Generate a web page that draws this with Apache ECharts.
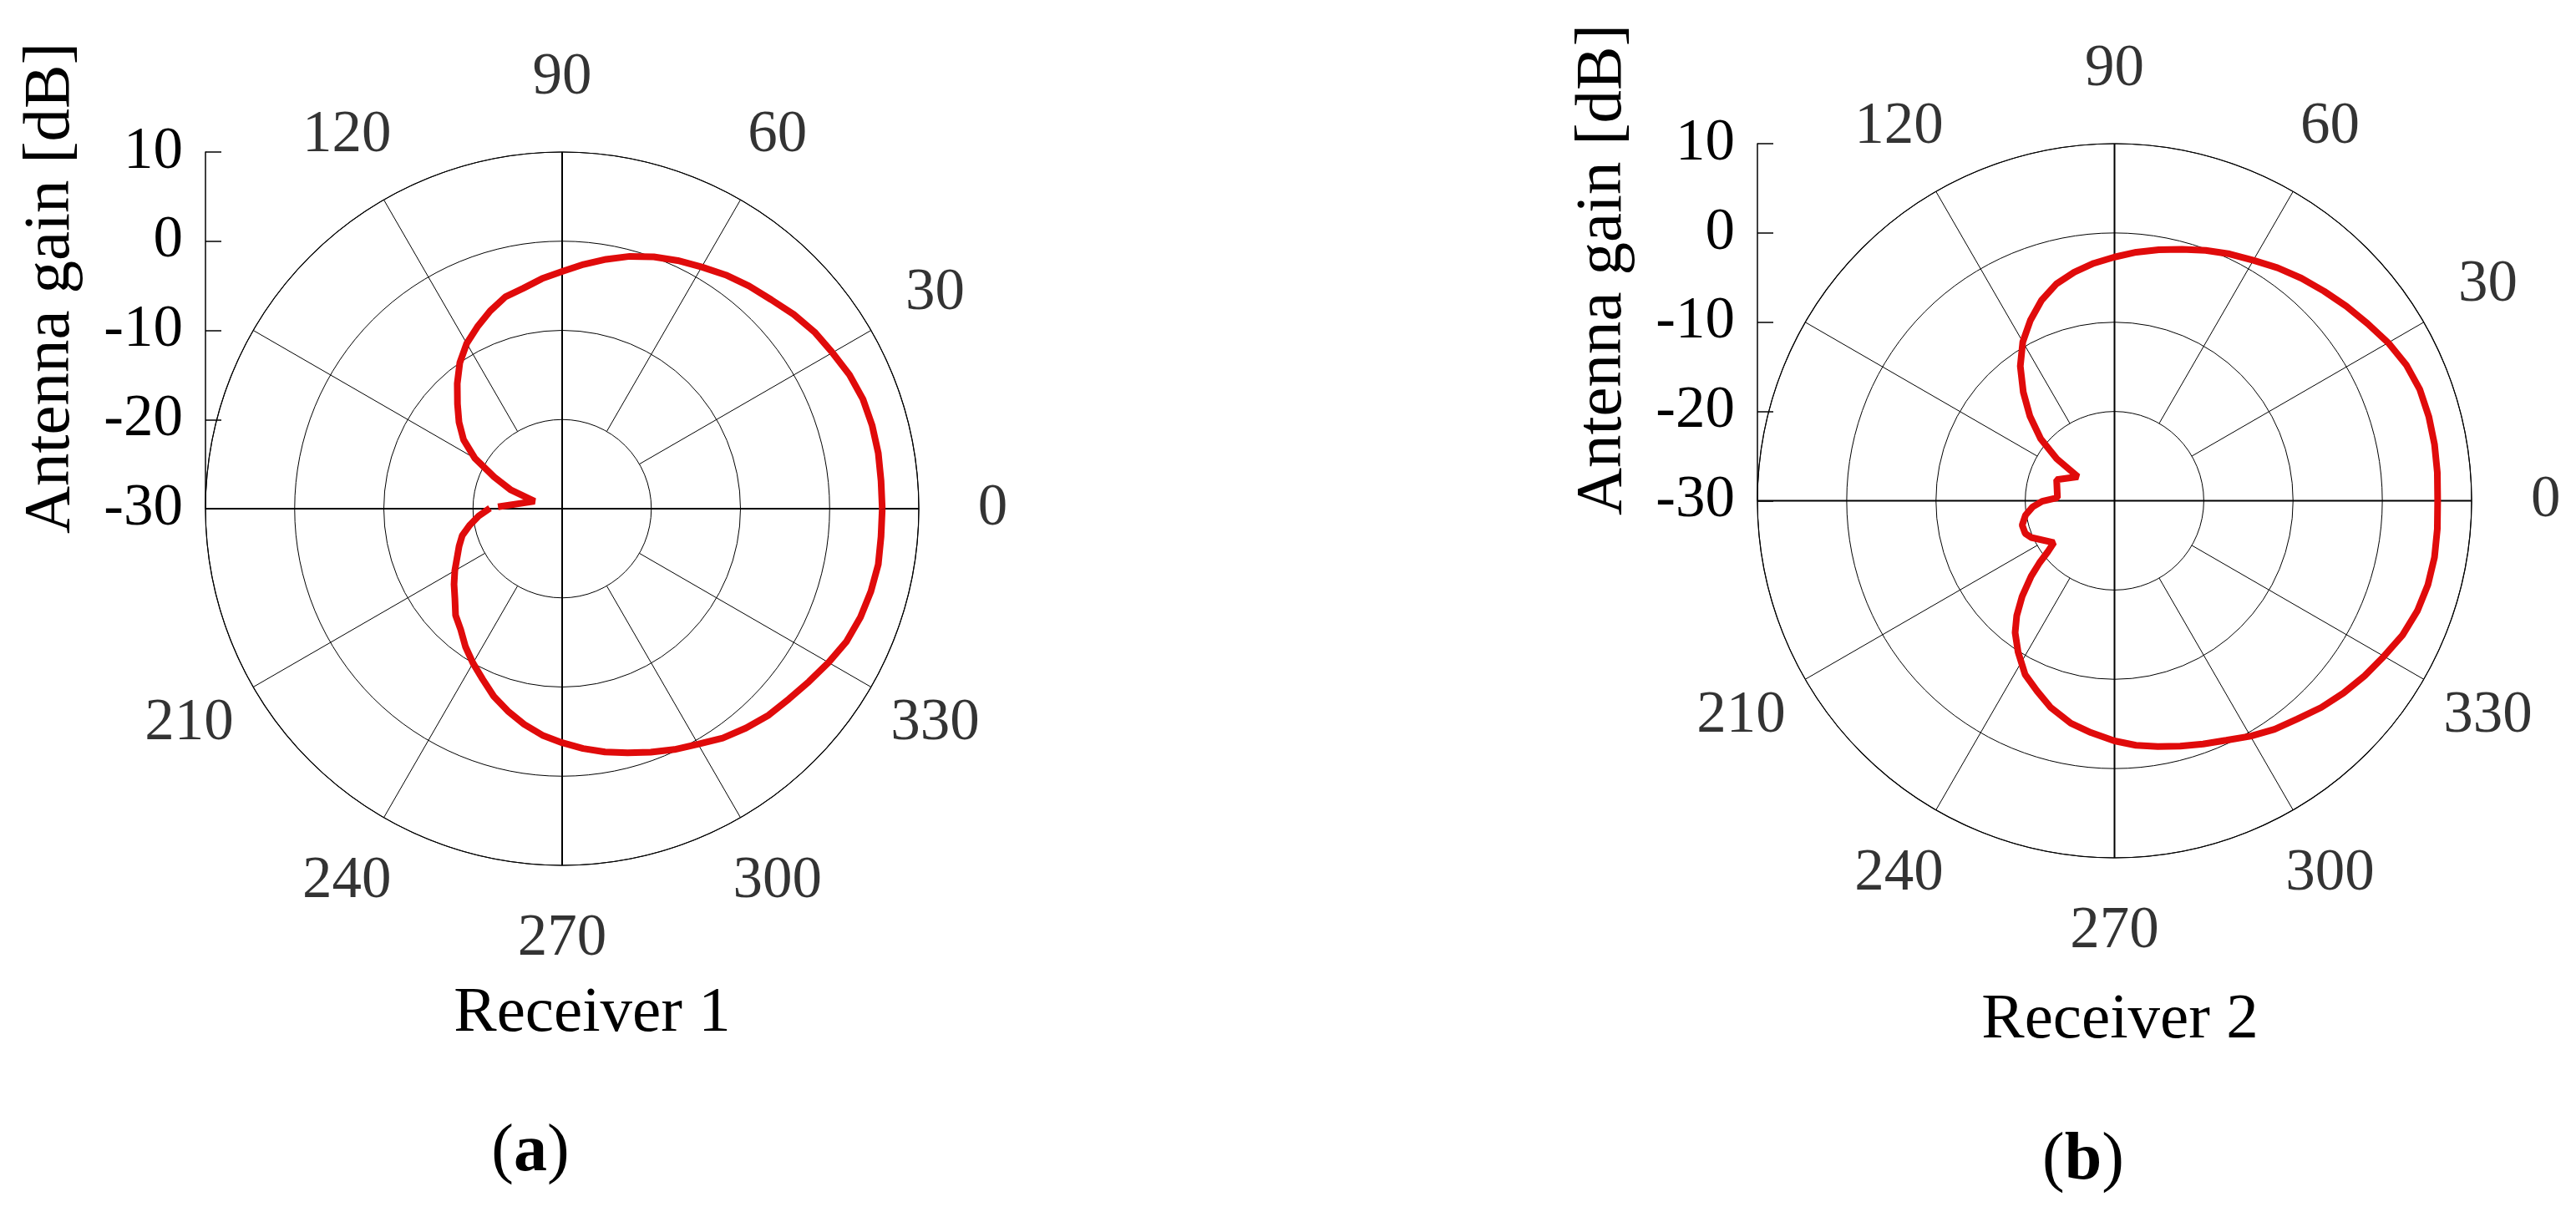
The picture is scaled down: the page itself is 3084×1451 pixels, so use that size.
<!DOCTYPE html>
<html>
<head>
<meta charset="utf-8">
<script src="https://cdn.jsdelivr.net/npm/echarts@6/dist/echarts.min.js"></script>
<style>
  html, body { margin: 0; padding: 0; background: #ffffff; }
  #chart { width: 3084px; height: 1451px; }
</style>
</head>
<body>
<div id="chart"></div>
<script>
// ---------------- DATA ----------------
// Receiver 1: angle (deg) and antenna gain (dB); '-' marks the small break in the trace
const anglesA = [0,5,10,15,20,25,30,35,40,45,50,55,60,65,70,75,80,85,90,95,100,105,110,115,120,125,130,135,140,145,150,155,160,165,178.3,179,179.6,185,190,195,200,205,210,215,220,225,230,235,240,245,250,255,260,265,270,275,280,285,290,295,300,305,310,315,320,325,330,335,340,345,350,355,360];
const gainA = [5.9,5.9,6.0,6.0,5.9,5.55,5.0,4.55,3.9,3.15,
  2.6,2.0,1.3,0.7,0.05,-0.7,-1.6,-2.5,-3.4,-4.1,
  -4.9,-5.4,-6.4,-7.5,-8.6,-10.0,-11.7,-13.4,-14.9,-16.5,
  -18.7,-21.6,-23.9,-26.8,
  -22.8,'-',-21.9,
  -20.6,-19.5,-18.4,-17.7,-17.0,-16.1,-15.2,-14.3,-13.1,-12.3,
  -11.1,-10.0,-8.9,-7.6,-6.5,-5.45,-4.5,-3.75,-3.0,-2.3,
  -1.65,-0.95,-0.2,0.5,1.4,2.1,2.75,3.2,3.8,4.5,
  5.2,5.6,5.85,6.0,5.9,5.9];

// Receiver 2
const anglesB = [0,5,10,15,20,25,30,35,40,45,50,55,60,65,70,75,80,85,90,95,100,105,110,115,120,125,130,135,140,144,146.7,160,177,180.4,184.3,189.2,194.8,200.1,203.8,214.6,217.4,219.6,222.2,226,229.6,233,237.5,242.8,247.8,252.9,258.9,264.2,270,275,280,285,290,295,300,305,310,315,320,325,330,335,340,345,350,355,360];
const gainB = [6.2,6.3,6.4,6.45,6.4,6.05,5.4,4.6,3.9,3.2,
  2.55,1.85,1.1,0.5,-0.15,-0.85,-1.45,-2.05,-2.7,-3.3,
  -4.0,-4.85,-6.1,-7.7,-9.45,-11.6,-14.1,-16.6,-19.2,-22.0,
  -25.1,-23.1,-23.6,-21.9,-20.8,-19.9,-19.3,-19.35,-19.8,-21.75,
  -20.6,-19.1,-17.4,-15.1,-13.1,-11.5,-9.9,-8.1,-7.0,-5.75,
  -4.6,-3.9,-3.1,-2.5,-2.05,-1.55,-1.0,-0.4,0.45,1.25,
  1.9,2.75,3.5,4.2,4.85,5.6,6.1,6.35,6.4,6.3,
  6.2];

// Tick labels
const radialTicks = [-30, -20, -10, 0, 10];
const angleTickLabels = [0, 30, 60, 90, 120, 210, 240, 270, 300, 330];
const panelTitles = ['Receiver 1', 'Receiver 2'];
const panelTags = ['a', 'b'];
const yAxisTitle = 'Antenna gain [dB]';

// ---------------- LAYOUT / STYLE ----------------
const FONT = '"Liberation Serif", "Times New Roman", "DejaVu Serif", serif';
const RED = '#e00b0b';
const panels = [
  { cx: 673, cy: 609, r: 427, nameX: 61, nameY: 345, titleX: 709, titleY: 1214, tagX: 635, tagY: 1380 },
  { cx: 2531.5, cy: 599.5, r: 427.5, nameX: 1919, nameY: 323, titleX: 2538, titleY: 1222, tagX: 2494, tagY: 1390 }
];
const series = [
  { angles: anglesA, gains: gainA },
  { angles: anglesB, gains: gainB }
];
const rMin = radialTicks[0];
const rMax = radialTicks[radialTicks.length - 1];
const rStep = radialTicks[1] - radialTicks[0];
const LABEL_R = 18.3; // radius (axis units) at which angle labels are centred

const polar = [], angleAxis = [], radiusAxis = [], grid = [], xAxis = [], yAxis = [], seriesList = [], graphic = [];

panels.forEach((p, i) => {
  const innerFrac = (radialTicks[1] - rMin) / (rMax - rMin);
  // main polar (data, rings, cross through centre)
  polar.push({ center: [p.cx, p.cy], radius: p.r });
  // spokes polar (spokes start at the -20 ring)
  polar.push({ center: [p.cx, p.cy], radius: [p.r * innerFrac, p.r] });

  angleAxis.push({
    polarIndex: 2 * i, type: 'value', min: 0, max: 360, interval: 90,
    startAngle: 0, clockwise: false,
    axisLine: { show: true, lineStyle: { color: '#000', width: 1.2 } },
    axisTick: { show: false }, axisLabel: { show: false },
    splitLine: { show: true, lineStyle: { color: '#000', width: 2 } }
  });
  radiusAxis.push({
    polarIndex: 2 * i, type: 'value', min: rMin, max: rMax, interval: rStep,
    axisLine: { show: false }, axisTick: { show: false }, axisLabel: { show: false },
    splitLine: { show: true, lineStyle: { color: '#000', width: 1 } }
  });
  angleAxis.push({
    polarIndex: 2 * i + 1, type: 'value', min: 0, max: 360, interval: 30,
    startAngle: 0, clockwise: false,
    axisLine: { show: false }, axisTick: { show: false }, axisLabel: { show: false },
    splitLine: { show: true, lineStyle: { color: '#000', width: 1 } }
  });
  radiusAxis.push({
    polarIndex: 2 * i + 1, type: 'value', min: 0, max: 1,
    axisLine: { show: false }, axisTick: { show: false }, axisLabel: { show: false },
    splitLine: { show: false }
  });

  // left radial scale
  grid.push({ left: p.cx - p.r, top: p.cy - p.r, width: 10, height: p.r });
  xAxis.push({ gridIndex: i, type: 'value', show: false });
  yAxis.push({
    gridIndex: i, type: 'value', min: rMin, max: rMax, interval: rStep, position: 'left',
    axisLine: { show: true, lineStyle: { color: '#000', width: 1.5 } },
    axisTick: { show: true, inside: true, length: 19, lineStyle: { color: '#000', width: 1.5 } },
    axisLabel: { margin: 27, fontSize: 71, color: '#000', fontFamily: FONT },
    splitLine: { show: false }
  });

  // curve
  const s = series[i];
  seriesList.push({
    type: 'line', coordinateSystem: 'polar', polarIndex: 2 * i,
    data: s.angles.map((a, k) => [s.gains[k], a]),
    showSymbol: false, symbol: 'none', connectNulls: false, silent: true,
    lineStyle: { color: RED, width: 8 }, z: 5
  });
  // angle labels
  seriesList.push({
    type: 'scatter', coordinateSystem: 'polar', polarIndex: 2 * i,
    data: angleTickLabels.map(a => [LABEL_R, a]),
    symbolSize: 1, clip: false, silent: true,
    itemStyle: { color: 'rgba(0,0,0,0)' },
    label: {
      show: true, position: 'inside', color: '#000', fontSize: 71, fontFamily: FONT,
      formatter: (q) => String(q.value[1])
    }
  });

  graphic.push({
    type: 'text', x: p.nameX, y: p.nameY, rotation: Math.PI / 2,
    style: { text: yAxisTitle, font: '79px ' + FONT, fill: '#000', align: 'center', verticalAlign: 'middle', textAlign: 'center', textVerticalAlign: 'middle' }
  });
  graphic.push({
    type: 'text', x: p.titleX, y: p.titleY,
    style: { text: panelTitles[i], font: '77px ' + FONT, fill: '#000', align: 'center', verticalAlign: 'middle', textAlign: 'center', textVerticalAlign: 'middle' }
  });
  graphic.push({
    type: 'text', x: p.tagX, y: p.tagY,
    style: {
      text: '({b|' + panelTags[i] + '})', font: '80px ' + FONT, fill: '#000',
      align: 'center', verticalAlign: 'middle', textAlign: 'center', textVerticalAlign: 'middle',
      rich: { b: { fontWeight: 'bold', fontSize: 80, fontFamily: FONT, fill: '#000' } }
    }
  });
});

const chart = echarts.init(document.getElementById('chart'), null, { renderer: 'canvas' });
chart.setOption({
  animation: false,
  backgroundColor: '#ffffff',
  polar, angleAxis, radiusAxis, grid, xAxis, yAxis,
  series: seriesList,
  graphic
});
</script>
</body>
</html>
